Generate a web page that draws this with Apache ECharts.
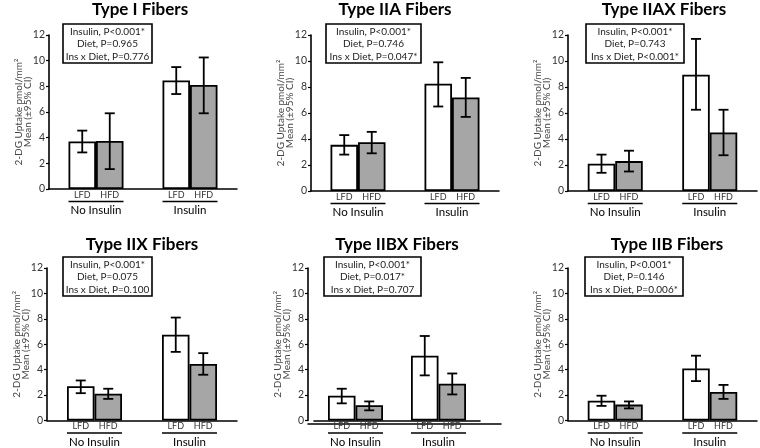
<!DOCTYPE html>
<html><head><meta charset="utf-8">
<script src="https://cdn.jsdelivr.net/npm/echarts@6/dist/echarts.min.js"></script>
<style>html,body{margin:0;padding:0;background:#fff}#c{width:760px;height:448px}</style>
</head><body><div id="c"></div>
<script>
// ---------- data ----------
const groups = ['No Insulin', 'Insulin'];
const diets = ['LFD', 'HFD'];
const yMin = 0, yMax = 12, yStep = 2;
const yAxisName = '2-DG Uptake pmol/mm\u00B2\nMean (\u00B195% CI)';
const panelTitles = ['Type I Fibers', 'Type IIA Fibers', 'Type IIAX Fibers', 'Type IIX Fibers', 'Type IIBX Fibers', 'Type IIB Fibers'];

const statsTypeI    = ['Insulin, P<0.001*', 'Diet, P=0.965', 'Ins x Diet, P=0.776'];
const statsTypeIIA  = ['Insulin, P<0.001*', 'Diet, P=0.746', 'Ins x Diet, P=0.047*'];
const statsTypeIIAX = ['Insulin, P<0.001*', 'Diet, P=0.743', 'Ins x Diet, P<0.001*'];
const statsTypeIIX  = ['Insulin, P<0.001*', 'Diet, P=0.075', 'Ins x Diet, P=0.100'];
const statsTypeIIBX = ['Insulin, P<0.001*', 'Diet, P=0.017*', 'Ins x Diet, P=0.707'];
const statsTypeIIB  = ['Insulin, P<0.001*', 'Diet, P=0.146', 'Ins x Diet, P=0.006*'];

// means per group [No Insulin, Insulin] and 95% CI [low, high]
const lfdTypeI = [3.7, 8.45];     const lfdCiTypeI = [[2.85, 4.55], [7.4, 9.5]];
const hfdTypeI = [3.75, 8.1];     const hfdCiTypeI = [[1.55, 5.9], [5.9, 10.25]];
const lfdTypeIIA = [3.55, 8.25];  const lfdCiTypeIIA = [[2.8, 4.3], [6.5, 9.9]];
const hfdTypeIIA = [3.75, 7.2];   const hfdCiTypeIIA = [[2.9, 4.55], [5.7, 8.7]];
const lfdTypeIIAX = [2.1, 8.95];  const lfdCiTypeIIAX = [[1.4, 2.8], [6.25, 11.7]];
const hfdTypeIIAX = [2.3, 4.5];   const hfdCiTypeIIAX = [[1.5, 3.1], [2.75, 6.25]];
const lfdTypeIIX = [2.7, 6.75];   const lfdCiTypeIIX = [[2.15, 3.15], [5.4, 8.1]];
const hfdTypeIIX = [2.1, 4.45];   const hfdCiTypeIIX = [[1.7, 2.5], [3.6, 5.3]];
const lfdTypeIIBX = [1.95, 5.1];  const lfdCiTypeIIBX = [[1.35, 2.5], [3.55, 6.65]];
const hfdTypeIIBX = [1.2, 2.9];   const hfdCiTypeIIBX = [[0.8, 1.5], [2.05, 3.7]];
const lfdTypeIIB = [1.55, 4.1];   const lfdCiTypeIIB = [[1.15, 1.95], [3.1, 5.1]];
const hfdTypeIIB = [1.25, 2.25];  const hfdCiTypeIIB = [[0.95, 1.5], [1.7, 2.8]];

const panelData = [
  {stats: statsTypeI,    lfd: lfdTypeI,    lfdCi: lfdCiTypeI,    hfd: hfdTypeI,    hfdCi: hfdCiTypeI},
  {stats: statsTypeIIA,  lfd: lfdTypeIIA,  lfdCi: lfdCiTypeIIA,  hfd: hfdTypeIIA,  hfdCi: hfdCiTypeIIA},
  {stats: statsTypeIIAX, lfd: lfdTypeIIAX, lfdCi: lfdCiTypeIIAX, hfd: hfdTypeIIAX, hfdCi: hfdCiTypeIIAX},
  {stats: statsTypeIIX,  lfd: lfdTypeIIX,  lfdCi: lfdCiTypeIIX,  hfd: hfdTypeIIX,  hfdCi: hfdCiTypeIIX},
  {stats: statsTypeIIBX, lfd: lfdTypeIIBX, lfdCi: lfdCiTypeIIBX, hfd: hfdTypeIIBX, hfdCi: hfdCiTypeIIBX},
  {stats: statsTypeIIB,  lfd: lfdTypeIIB,  lfdCi: lfdCiTypeIIB,  hfd: hfdTypeIIB,  hfdCi: hfdCiTypeIIB}
];

// ---------- layout (style only) ----------
const layout = [
  {left: 49,  top: 35,  width: 188, height: 154, yOff: 0, tx: 140, ty: 10,  box: [63, 24, 89, 39]},
  {left: 311, top: 35,  width: 188, height: 156, yOff: 0, tx: 395, ty: 10,  box: [326, 24, 95, 39]},
  {left: 568, top: 35,  width: 189, height: 156, yOff: 0, tx: 664, ty: 10,  box: [586, 24, 98, 39]},
  {left: 47,  top: 268, width: 190, height: 156, yOff: 0, tx: 142, ty: 245, box: [63, 257, 89, 39]},
  {left: 314, top: 268, width: 166, height: 156, yOff: 6, tx: 397, ty: 245, box: [324, 257, 97, 39], frame: [308, 193]},
  {left: 568, top: 268, width: 189, height: 156, yOff: 0, tx: 667, ty: 245, box: [585, 257, 98, 39]}
];

const FONT = 'Lato';
const BAR_W = 27.5;
const fills = ['#ffffff', '#a6a6a6'];

const grid = [], xAxis = [], yAxis = [], series = [], graphic = [];

function errRender(offset) {
  return function (params, api) {
    const x = api.value(0);
    const lo = api.coord([x, api.value(1)]);
    const hi = api.coord([x, api.value(2)]);
    const cx = lo[0] + offset;
    const cap = 5;
    const st = {stroke: '#000', lineWidth: 1.8};
    return {type: 'group', children: [
      {type: 'line', shape: {x1: cx, y1: lo[1], x2: cx, y2: hi[1]}, style: st},
      {type: 'line', shape: {x1: cx - cap, y1: lo[1], x2: cx + cap, y2: lo[1]}, style: st},
      {type: 'line', shape: {x1: cx - cap, y1: hi[1], x2: cx + cap, y2: hi[1]}, style: st}
    ]};
  };
}

panelData.forEach((p, i) => {
  const L = layout[i];
  grid.push({left: L.left, top: L.top, width: L.width, height: L.height});
  xAxis.push({
    type: 'category', gridIndex: i, data: groups,
    axisLine: {lineStyle: {color: '#000', width: 1.6}},
    axisTick: {show: false},
    axisLabel: {
      margin: 1, interval: 0,
      formatter: v => '{d|' + diets[0] + '}{d|' + diets[1] + '}\n{u|}\n{g|' + v + '}',
      rich: {
        d: {width: BAR_W, align: 'center', fontSize: 9, lineHeight: 10, color: '#333', fontFamily: FONT},
        u: {width: BAR_W * 2, height: 1.6, lineHeight: 3, backgroundColor: '#000'},
        g: {fontSize: 11.5, lineHeight: 15, color: '#000', fontFamily: FONT}
      }
    }
  });
  yAxis.push({
    type: 'value', gridIndex: i, min: yMin, max: yMax, interval: yStep, offset: L.yOff,
    axisLine: {show: true, lineStyle: {color: '#000', width: 1.6}},
    axisTick: {show: true, length: 3, lineStyle: {color: '#000', width: 1.2}},
    splitLine: {show: false},
    axisLabel: {fontSize: 10.5, color: '#333', margin: 4, fontFamily: FONT},
    name: yAxisName, nameLocation: 'middle', nameGap: 16, nameRotate: 90, nameMoveOverlap: false,
    nameTextStyle: {fontSize: 10, color: '#444', lineHeight: 9.5, fontFamily: FONT}
  });
  [p.lfd, p.hfd].forEach((vals, k) => {
    series.push({
      type: 'bar', name: diets[k], xAxisIndex: i, yAxisIndex: i, data: vals,
      barWidth: BAR_W, barGap: '0%',
      itemStyle: {color: fills[k], borderColor: '#000', borderWidth: 1.8},
      silent: true, animation: false
    });
  });
  [p.lfdCi, p.hfdCi].forEach((ci, k) => {
    series.push({
      type: 'custom', name: diets[k] + ' CI', xAxisIndex: i, yAxisIndex: i,
      data: ci.map((c, j) => [j, c[0], c[1]]),
      encode: {x: 0, y: [1, 2]},
      renderItem: errRender(k === 0 ? -BAR_W / 2 : BAR_W / 2),
      z: 5, silent: true, animation: false
    });
  });
  graphic.push({
    type: 'text', x: L.tx, y: L.ty, z: 10,
    style: {text: panelTitles[i], font: 'bold 17px ' + FONT, fill: '#000', align: 'center', verticalAlign: 'middle'}
  });
  const b = L.box;
  graphic.push({
    type: 'rect', z: 10, shape: {x: b[0], y: b[1], width: b[2], height: b[3]},
    style: {fill: '#fff', stroke: '#000', lineWidth: 1.6}
  });
  graphic.push({
    type: 'text', z: 11, x: b[0] + b[2] / 2, y: b[1] + 1.5,
    style: {text: p.stats.join('\n'), font: '10px ' + FONT, fill: '#222', align: 'center', verticalAlign: 'top', lineHeight: 12.5}
  });
});

// extra axis-line frame for the compressed panel
layout.forEach((L, i) => {
  if (!L.frame) return;
  const gi = grid.length;
  grid.push({left: L.frame[0], top: L.top, width: L.frame[1], height: L.height});
  xAxis.push({type: 'category', gridIndex: gi, data: groups, axisLine: {lineStyle: {color: '#000', width: 1.6}},
    axisTick: {show: false}, axisLabel: {show: false}});
  yAxis.push({type: 'value', gridIndex: gi, min: yMin, max: yMax, show: false});
});

const chart = echarts.init(document.getElementById('c'), null, {renderer: 'canvas'});
chart.setOption({
  animation: false,
  backgroundColor: '#fff',
  textStyle: {fontFamily: FONT},
  grid, xAxis, yAxis, series, graphic
});
</script>
</body></html>
